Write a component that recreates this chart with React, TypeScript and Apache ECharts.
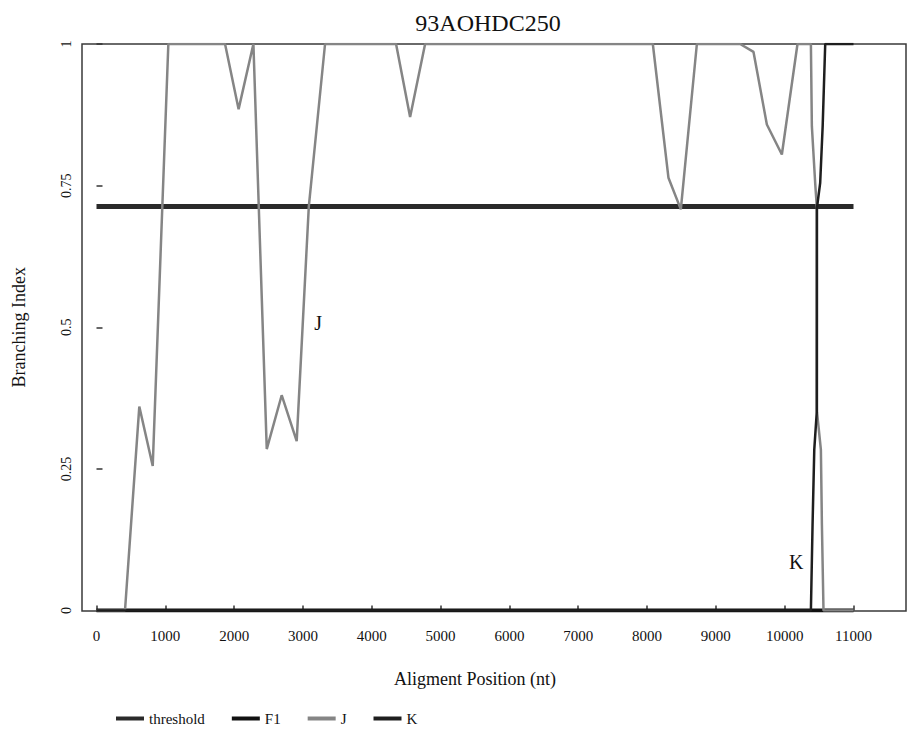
import React, { useEffect, useRef } from "react";
import * as echarts from "echarts";

const titleText = "93AOHDC250";
const xAxisName = "Aligment Position (nt)";
const yAxisName = "Branching Index";
const seriesNames = ["threshold", "F1", "J", "K"];

const xMin = 0;
const xMax = 11000;
const xInterval = 1000;
const yMin = 0;
const yMax = 1;
const yInterval = 0.25;

const thresholdData: [number, number][] = [
  [0, 0.713],
  [11000, 0.713],
];

const f1Data: [number, number][] = [
  [0, 0],
  [11000, 0],
];

const jData: [number, number][] = [
  [0, 0], [414, 0], [622, 0.36], [817, 0.255], [1044, 1], [1868, 1],
  [2065, 0.885], [2280, 1], [2474, 0.285], [2691, 0.38], [2909, 0.299],
  [3085, 0.713], [3321, 1], [4353, 1], [4557, 0.871], [4775, 1],
  [8084, 1], [8311, 0.764], [8491, 0.708], [8724, 1], [9353, 1],
  [9547, 0.986], [9741, 0.858], [9959, 0.805], [10186, 1], [10381, 1],
  [10395, 0.855], [10443, 0.755], [10468, 0.71], [10470, 0.35],
  [10526, 0.284], [10541, 0.151], [10564, 0], [11000, 0],
];

const kData: [number, number][] = [
  [0, 0], [10381, 0], [10405, 0.151], [10430, 0.284], [10466, 0.35],
  [10468, 0.71], [10516, 0.755], [10552, 0.855], [10589, 1], [11000, 1],
];

const jLabelPos: [number, number] = [3219, 0.508];
const kLabelPos: [number, number] = [10167, 0.085];

const FONT = "'Liberation Serif', 'DejaVu Serif', 'Times New Roman', serif";

export default function App() {
  const ref = useRef<HTMLDivElement>(null);

  useEffect(() => {
    if (!ref.current) return;
    const chart = echarts.init(ref.current, undefined, { renderer: "svg" });

    const labelStyle = {
      show: true,
      fontFamily: FONT,
      fontSize: 20,
      color: "#111",
      position: "inside" as const,
    };

    chart.setOption({
      animation: false,
      backgroundColor: "#ffffff",
      textStyle: { fontFamily: FONT },
      title: {
        text: titleText,
        left: 483,
        top: 6,
        textAlign: "center",
        textStyle: { fontFamily: FONT, fontSize: 24, fontWeight: "normal", color: "#111" },
      },
      legend: {
        left: 116,
        top: 711,
        padding: 0,
        itemGap: 27,
        itemWidth: 28,
        itemHeight: 4,
        icon: "rect",
        textStyle: { fontFamily: FONT, fontSize: 15, color: "#111" },
        data: seriesNames,
      },
      graphic: [
        {
          type: "rect",
          z: 0,
          silent: true,
          shape: { x: 82, y: 44, width: 824, height: 567 },
          style: { fill: "none", stroke: "#3a3a3a", lineWidth: 1.5 },
        },
      ],
      grid: { left: 96.5, right: 55.5, top: 44, bottom: 125.5, containLabel: false },
      xAxis: {
        type: "value",
        min: xMin,
        max: xMax,
        interval: xInterval,
        name: xAxisName,
        nameLocation: "middle",
        nameGap: 59,
        nameTextStyle: { fontFamily: FONT, fontSize: 18, color: "#111" },
        axisLine: { show: false },
        axisTick: { show: true, inside: true, length: 5, lineStyle: { color: "#333", width: 1.5 } },
        axisLabel: {
          margin: 18,
          fontFamily: FONT,
          fontSize: 15,
          color: "#111",
          formatter: (v: number) => String(v),
        },
        splitLine: { show: false },
      },
      yAxis: {
        type: "value",
        min: yMin,
        max: yMax,
        interval: yInterval,
        offset: 14.5,
        name: yAxisName,
        nameLocation: "middle",
        nameGap: 54,
        nameTextStyle: { fontFamily: FONT, fontSize: 18, color: "#111" },
        axisLine: { show: false },
        axisTick: { show: true, inside: true, length: 6, lineStyle: { color: "#333", width: 1.5 } },
        axisLabel: {
          rotate: 90,
          margin: 9,
          fontFamily: FONT,
          fontSize: 14,
          color: "#111",
          formatter: (v: number) => String(v),
        },
        splitLine: { show: false },
      },
      series: [
        {
          name: seriesNames[0],
          type: "line",
          data: thresholdData,
          showSymbol: false,
          symbol: "none",
          lineStyle: { color: "#2a2a2a", width: 5 },
          itemStyle: { color: "#2a2a2a" },
          z: 2,
        },
        {
          name: seriesNames[1],
          type: "line",
          data: f1Data,
          showSymbol: false,
          symbol: "none",
          lineStyle: { color: "#111111", width: 4 },
          itemStyle: { color: "#111111" },
          z: 3,
        },
        {
          name: seriesNames[2],
          type: "line",
          data: jData,
          showSymbol: false,
          symbol: "none",
          lineStyle: { color: "#858585", width: 2.5 },
          itemStyle: { color: "#858585" },
          z: 4,
          markPoint: {
            symbol: "circle",
            symbolSize: 0,
            silent: true,
            label: { ...labelStyle, formatter: "J" },
            data: [{ coord: jLabelPos, value: "J" }],
          },
        },
        {
          name: seriesNames[3],
          type: "line",
          data: kData,
          showSymbol: false,
          symbol: "none",
          lineStyle: { color: "#1e1e1e", width: 2.5 },
          itemStyle: { color: "#1e1e1e" },
          z: 5,
          markPoint: {
            symbol: "circle",
            symbolSize: 0,
            silent: true,
            label: { ...labelStyle, formatter: "K" },
            data: [{ coord: kLabelPos, value: "K" }],
          },
        },
      ],
    });

    return () => chart.dispose();
  }, []);

  return (
    <div
      ref={ref}
      style={{ position: "absolute", left: 0, top: 0, width: 909, height: 736 }}
    />
  );
}
